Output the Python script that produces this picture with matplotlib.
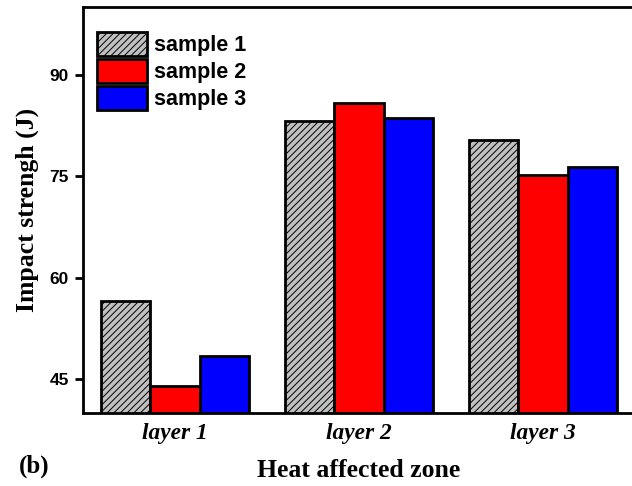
import numpy as np
import matplotlib as mpl
import matplotlib.pyplot as plt

#--------------------------------------------------
# data
layers  = ['layer 1', 'layer 2', 'layer 3']
samples = ['sample 1', 'sample 2', 'sample 3']
sample1 = [56.5, 83.1, 80.4]
sample2 = [44.0, 85.8, 75.1]
sample3 = [48.5, 83.6, 76.4]
yticks  = [45, 60, 75, 90]

mpl.rcParams['hatch.linewidth'] = 0.7

fig = plt.figure(figsize=(6.32, 4.86), dpi=100)
ax = fig.add_axes([0.1313, 0.150, 0.8734, 0.836])

x = np.arange(len(layers))
w = 0.267
styles = [dict(color='#c0c0c0', hatch='/////'),
          dict(color='#ff0000'),
          dict(color='#0000ff')]
for i, (vals, lab, st) in enumerate(zip([sample1, sample2, sample3], samples, styles)):
    ax.bar(x + (i-1)*w, vals, w, label=lab, edgecolor='black', linewidth=2, **st)

ax.set_ylim(40, 100)
ax.set_xlim(-0.5, 2.5)
ax.set_yticks(yticks)
ax.set_xticks(x)
ax.set_xticklabels(layers, family='Liberation Serif', style='italic', weight='bold', fontsize=16.8)
for lab in ax.get_yticklabels():
    lab.set_family('Liberation Sans')
    lab.set_weight('bold')
    lab.set_fontsize(12.5)
ax.tick_params(axis='y', direction='out', length=6, width=2, pad=4)
ax.tick_params(axis='x', length=0, pad=7)
for s in ax.spines.values():
    s.set_linewidth(2)

ax.set_ylabel('Impact strengh (J)', family='Liberation Serif', weight='bold', fontsize=18.5, labelpad=8)
ax.set_xlabel('Heat affected zone', family='Liberation Serif', weight='bold', fontsize=18.5, labelpad=11)
fig.text(0.03, 0.028, '(b)', family='Liberation Serif', weight='bold', fontsize=18)

leg = ax.legend(loc='upper left', bbox_to_anchor=(0.025, 0.937), frameon=False,
                handlelength=2.35, handleheight=1.3, handletextpad=0.3,
                labelspacing=0.14, borderaxespad=0, borderpad=0,
                prop=dict(family='Liberation Sans', weight='bold', size=15.5))

fig.savefig('out.png', dpi=100)
